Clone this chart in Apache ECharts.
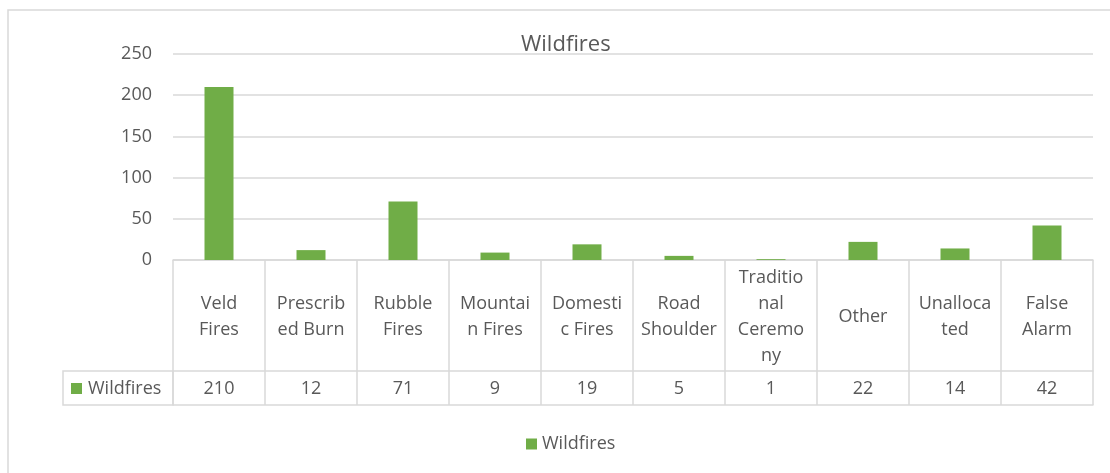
<!DOCTYPE html>
<html>
<head>
<meta charset="utf-8">
<script src="https://cdn.jsdelivr.net/npm/echarts@6/dist/echarts.min.js"></script>
<style>html,body{margin:0;padding:0;background:#fff}#c{width:1110px;height:473px}</style>
</head>
<body>
<div id="c"></div>
<script>
const categories = ["Veld Fires","Prescribed Burn","Rubble Fires","Mountain Fires","Domestic Fires","Road Shoulder","Traditional Ceremony","Other","Unallocated","False Alarm"];
const categoryLabels = ["Veld\nFires","Prescrib\ned Burn","Rubble\nFires","Mountai\nn Fires","Domesti\nc Fires","Road\nShoulder","Traditio\nnal\nCeremo\nny","Other","Unalloca\nted","False\nAlarm"];
const seriesName = "Wildfires";
const values = [210,12,71,9,19,5,1,22,14,42];
const yTicks = [0,50,100,150,200,250];

const FONT = '"Open Sans", "Liberation Sans", sans-serif';
const TXT = '#595959';
const LINE = '#d9d9d9';
const GREEN = '#70ad47';
const FS = 18;

const chart = echarts.init(document.getElementById('c'), null, {renderer:'canvas'});
chart.setOption({
  animation:false,
  backgroundColor:'#fff',
  textStyle:{fontFamily:FONT},
  title:{text:'Wildfires', left:521, top:34, padding:0,
    textStyle:{fontFamily:FONT, fontSize:22, fontWeight:'normal', color:TXT}},
  legend:{show:true, bottom:15, left:521, itemWidth:11, itemHeight:11, itemGap:6,
    icon:'rect', data:[seriesName],
    textStyle:{fontFamily:FONT, fontSize:FS, color:TXT}},
  grid:{left:173, right:17, top:54, bottom:213, containLabel:false},
  xAxis:[{
    type:'category', data:categories, position:'bottom',
    axisLine:{show:true, lineStyle:{color:LINE, width:1.5}},
    axisTick:{show:true, length:145, lineStyle:{color:LINE, width:1.5}},
    axisLabel:{interval:0, margin:57, verticalAlign:'middle', align:'center', lineHeight:26,
      fontFamily:FONT, fontSize:FS, color:TXT,
      formatter:(v,i)=>categoryLabels[i]}
  },{
    type:'category', data:values.map(String), position:'bottom', offset:111,
    axisLine:{show:true, lineStyle:{color:LINE, width:1.5}},
    axisTick:{show:false},
    axisLabel:{interval:0, margin:18, verticalAlign:'middle', align:'center',
      fontFamily:FONT, fontSize:FS, color:TXT}
  },{
    type:'category', data:categories, position:'bottom', offset:145,
    axisLine:{show:true, lineStyle:{color:LINE, width:1.5}},
    axisTick:{show:false}, axisLabel:{show:false}
  }],
  yAxis:{type:'value', min:0, max:250, interval:50,
    axisLine:{show:false}, axisTick:{show:false},
    splitLine:{show:true, lineStyle:{color:LINE, width:1.5}},
    axisLabel:{margin:21, fontFamily:FONT, fontSize:FS, color:TXT,
      formatter:v=>yTicks.includes(v)?String(v):''}},
  series:[{type:'bar', name:seriesName, data:values, xAxisIndex:0, barWidth:29,
    itemStyle:{color:GREEN}}],
  graphic:[
    {type:'rect', shape:{x:8, y:10, width:1120, height:480}, style:{fill:'none', stroke:LINE, lineWidth:1.5}, z:-1},
    {type:'rect', shape:{x:63, y:371, width:110, height:34}, style:{fill:'none', stroke:LINE, lineWidth:1.5}},
    {type:'rect', shape:{x:71, y:383, width:11, height:11}, style:{fill:GREEN}},
    {type:'text', x:88, y:389, style:{text:seriesName, fill:TXT, font:FS+'px '+FONT, verticalAlign:'middle', align:'left'}}
  ]
});
</script>
</body>
</html>
